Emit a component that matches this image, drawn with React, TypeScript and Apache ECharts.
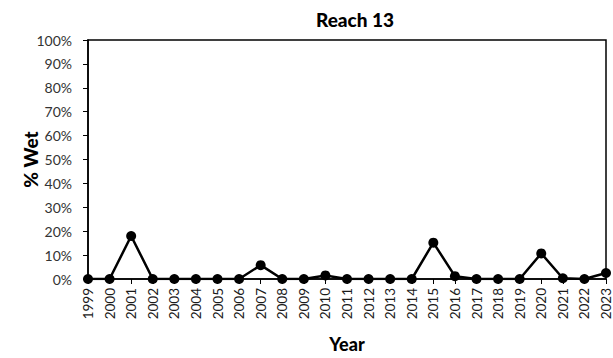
import React, { useEffect, useRef } from "react";
import * as echarts from "echarts";

const years = ["1999","2000","2001","2002","2003","2004","2005","2006","2007","2008","2009","2010","2011","2012","2013","2014","2015","2016","2017","2018","2019","2020","2021","2022","2023"];
const wetPct = [0, 0, 18, 0, 0, 0, 0, 0, 5.8, 0, 0, 1.5, 0, 0, 0, 0, 15.2, 1.2, 0, 0, 0, 10.7, 0.3, 0, 2.5];

export default function App() {
  const ref = useRef<HTMLDivElement>(null);
  useEffect(() => {
    const chart = echarts.init(ref.current!, null, { renderer: "svg" });
    const font = "Lato, 'Open Sans', sans-serif";
    chart.setOption({
      animation: false,
      title: {
        text: "Reach 13",
        left: 350,
        textAlign: "center",
        top: 5,
        textStyle: { fontFamily: font, fontSize: 19, fontWeight: 900, color: "#000" },
      },
      grid: {
        left: 88, right: 6, top: 40, bottom: 78,
        show: true, borderColor: "#000", borderWidth: 1.5, backgroundColor: "transparent",
      },
      xAxis: {
        type: "category",
        data: years,
        boundaryGap: false,
        name: "Year",
        nameLocation: "middle",
        nameGap: 56,
        nameTextStyle: { fontFamily: font, fontSize: 18, fontWeight: 900, color: "#000" },
        axisLine: { lineStyle: { color: "#000", width: 1.5 } },
        axisTick: { show: true, length: 5, lineStyle: { color: "#000" } },
        axisLabel: { rotate: 90, interval: 0, fontFamily: font, fontSize: 13.5, color: "#1a1a1a", margin: 9 },
        splitLine: { show: false },
      },
      yAxis: {
        type: "value",
        min: 0, max: 100, interval: 10,
        name: "% Wet",
        nameLocation: "middle",
        nameGap: 48,
        nameMoveOverlap: false,
        nameTextStyle: { fontFamily: font, fontSize: 19, fontWeight: 900, color: "#000" },
        axisLine: { show: true, lineStyle: { color: "#000", width: 1.5 } },
        axisTick: { show: true, length: 5, lineStyle: { color: "#000" } },
        axisLabel: { formatter: "{value}%", fontFamily: font, fontSize: 14, color: "#333", margin: 16 },
        splitLine: { show: false },
      },
      series: [{
        type: "line",
        data: wetPct,
        symbol: "circle",
        symbolSize: 10,
        lineStyle: { color: "#000", width: 2.5 },
        itemStyle: { color: "#000" },
      }],
    });
    return () => chart.dispose();
  }, []);
  return <div ref={ref} style={{ width: 613, height: 358, position: "absolute", left: 0, top: 0 }} />;
}
